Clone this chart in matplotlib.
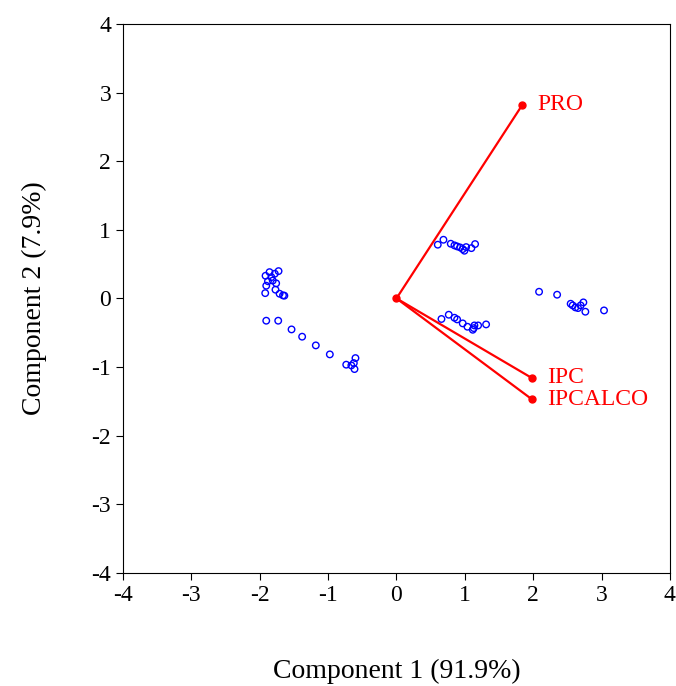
import matplotlib
matplotlib.use('Agg')
import matplotlib.pyplot as plt

plt.rcParams['font.family'] = ['Liberation Serif', 'DejaVu Serif']
plt.rcParams['axes.unicode_minus'] = False

# observation scores
score_x = [-1.915, -1.857, -1.725, -1.78, -1.83, -1.81, -1.88, -1.76, -1.905, -1.77,
           -1.92, -1.71, -1.66, -1.64,
           -1.905, -1.73, -1.535, -1.38, -1.18, -0.975, -0.735, -0.60, -0.624, -0.66, -0.614,
           0.604, 0.687, 0.794, 0.848, 0.887, 0.931, 0.969, 0.994, 1.019, 1.096, 1.15,
           0.658, 0.765, 0.848, 0.887, 0.969, 1.038, 1.116, 1.13, 1.14, 1.194, 1.311,
           2.086, 2.35, 2.548, 2.578, 2.617, 2.656, 2.694, 2.734, 2.763, 3.036]
score_y = [0.33, 0.383, 0.398, 0.36, 0.31, 0.26, 0.25, 0.22, 0.185, 0.127,
           0.077, 0.068, 0.044, 0.04,
           -0.325, -0.325, -0.452, -0.558, -0.685, -0.816, -0.966, -0.87, -0.943, -0.977, -1.03,
           0.783, 0.855, 0.797, 0.773, 0.758, 0.743, 0.719, 0.695, 0.748, 0.733, 0.792,
           -0.30, -0.238, -0.282, -0.306, -0.364, -0.413, -0.457, -0.433, -0.394, -0.394, -0.379,
           0.097, 0.054, -0.078, -0.102, -0.131, -0.141, -0.102, -0.058, -0.194, -0.175]

# variable loadings
var_names = ['PRO', 'IPC', 'IPCALCO']
load_x = [1.84, 1.98, 1.98]
load_y = [2.82, -1.16, -1.47]

fig = plt.figure(figsize=(6.76, 6.86), dpi=100)
ax = fig.add_axes([0.182, 0.165, 0.809, 0.800])

ax.scatter(score_x, score_y, s=22, facecolors='none', edgecolors='blue', linewidths=1.0, zorder=2)

for name, lx, ly in zip(var_names, load_x, load_y):
    ax.plot([0, lx], [0, ly], color='red', lw=1.6, zorder=3)
    ax.plot(lx, ly, 'o', color='red', ms=5, zorder=4)
    ax.annotate(name, (lx, ly), xytext=(11, 0), textcoords='offset points',
                color='red', fontsize=17, va='center', ha='left')
ax.plot(0, 0, 'o', color='red', ms=5, zorder=4)

ax.set_xlim(-4, 4)
ax.set_ylim(-4, 4)
ax.set_xticks(range(-4, 5))
ax.set_yticks(range(-4, 5))
ax.tick_params(direction='out', length=5, labelsize=17, top=False, right=False)
ax.set_xlabel('Component 1 (91.9%)', fontsize=20, labelpad=38)
ax.set_ylabel('Component 2 (7.9%)', fontsize=20, labelpad=32)

fig.savefig('out.png', dpi=100)
